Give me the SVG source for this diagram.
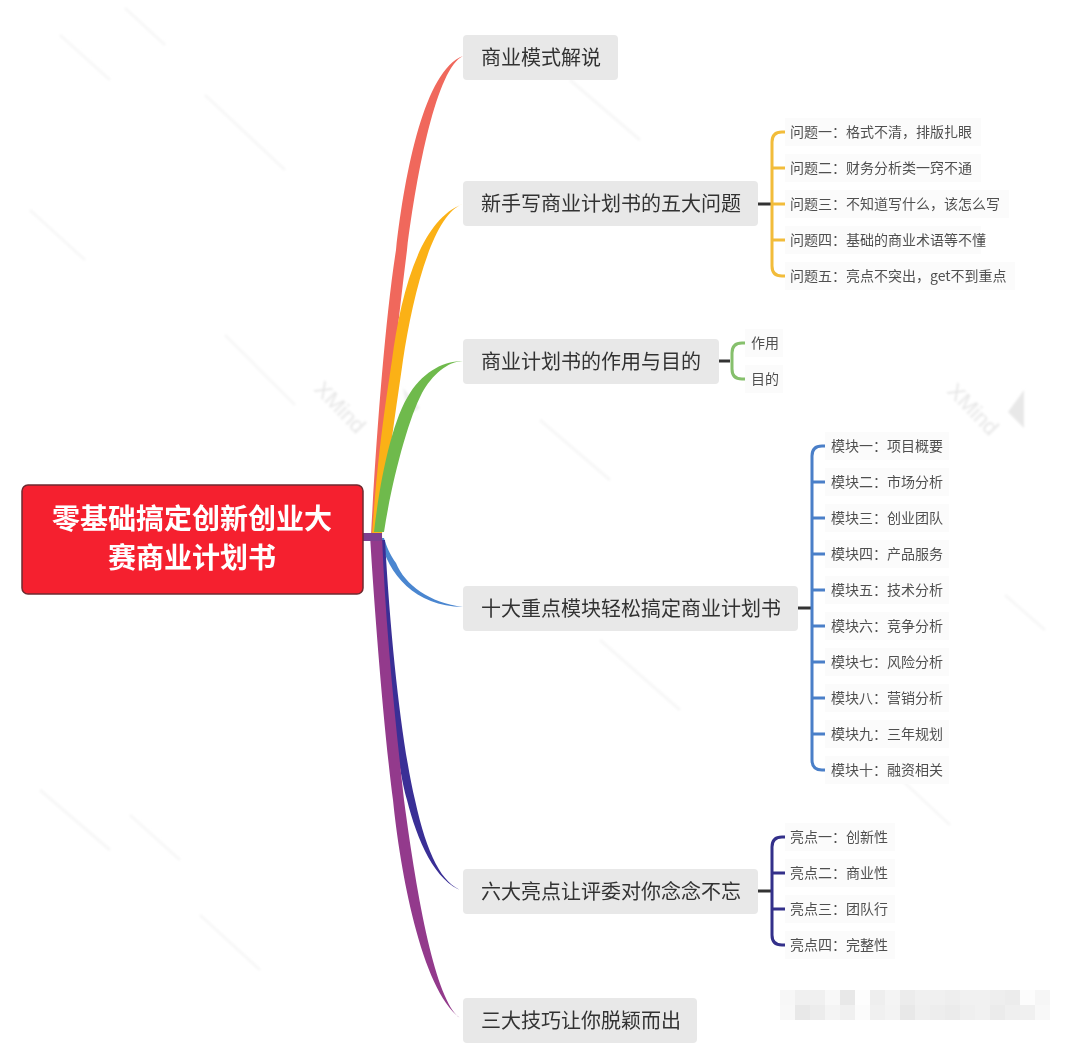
<svg xmlns="http://www.w3.org/2000/svg" width="1079" height="1051" viewBox="0 0 1079 1051">
<defs>
<filter id="soft" x="-5%" y="-20%" width="110%" height="140%"><feGaussianBlur stdDeviation="0.5"/></filter>
<filter id="wm" x="-20%" y="-20%" width="140%" height="140%"><feGaussianBlur stdDeviation="1"/></filter>
</defs>
<style>
text{font-family:"Noto Sans CJK SC","Noto Sans",sans-serif}
.topic{fill:#e8e8e8}
.leafbg{fill:#fbfbfb}
.t{font-size:20px;fill:#333;filter:url(#soft)}
.l{font-size:14px;fill:#505050;filter:url(#soft)}
.root{font-size:28px;font-weight:700;fill:#fff;text-anchor:middle;filter:url(#soft)}
.br{fill:none;stroke-width:3;stroke-linecap:round}
.stub{stroke:#333;stroke-width:3}
.wl{stroke:#f7f7f7;stroke-width:3;fill:none}
.wt{font-size:22px;font-family:"Liberation Sans",sans-serif;fill:#e6e6e6;filter:url(#wm)}
</style>
<rect width="1079" height="1051" fill="#fff"/>
<g id="watermark">
<path class="wl" filter="url(#wm)" d="M125 8L165 45M205 95L285 170M60 35L110 80M225 335L295 405M30 210L85 260M40 790L110 850M130 815L180 860M200 915L260 970M570 80L640 140M880 760L950 825M600 640L680 710M540 420L610 480M1005 595L1045 630"/>
<text class="wt" transform="translate(313 390) rotate(46)">XMind</text>
<text class="wt" transform="translate(946 392) rotate(46)">XMind</text>
<path d="M403 388L420 408L408 415Z" fill="#eee" filter="url(#wm)"/>
<path d="M1024 390L1024 428L1008 412Z" fill="#e8e8e8" filter="url(#wm)"/>
</g>
<g id="mosaic">
<g id="mosaic-row1" transform="translate(780 990)">
<rect width="15" height="15" fill="#f7f7f7"/><rect x="15" width="15" height="15" fill="#f0f0f0"/><rect x="30" width="15" height="15" fill="#f0f0f0"/><rect x="45" width="15" height="15" fill="#f8f8f8"/><rect x="60" width="15" height="15" fill="#e8e8e8"/><rect x="75" width="15" height="15" fill="#fdfdfd"/><rect x="90" width="15" height="15" fill="#eeeeee"/><rect x="105" width="15" height="15" fill="#f4f4f4"/><rect x="120" width="15" height="15" fill="#ececec"/><rect x="135" width="15" height="15" fill="#f0f0f0"/><rect x="150" width="15" height="15" fill="#f0f0f0"/><rect x="165" width="15" height="15" fill="#eeeeee"/><rect x="180" width="15" height="15" fill="#f1f1f1"/><rect x="195" width="15" height="15" fill="#f1f1f1"/><rect x="210" width="15" height="15" fill="#eeeeee"/><rect x="225" width="15" height="15" fill="#ececec"/><rect x="240" width="15" height="15" fill="#fcfcfc"/><rect x="255" width="15" height="15" fill="#f6f6f6"/>
</g>
<g id="mosaic-row2" transform="translate(780 1005)">
<rect width="15" height="15" fill="#f8f8f8"/><rect x="15" width="15" height="15" fill="#e8e8e8"/><rect x="30" width="15" height="15" fill="#ececec"/><rect x="45" width="15" height="15" fill="#f4f4f4"/><rect x="60" width="15" height="15" fill="#f0f0f0"/><rect x="75" width="15" height="15" fill="#fbfbfb"/><rect x="90" width="15" height="15" fill="#f0f0f0"/><rect x="105" width="15" height="15" fill="#f3f3f3"/><rect x="120" width="15" height="15" fill="#e8e8e8"/><rect x="135" width="15" height="15" fill="#efefef"/><rect x="150" width="15" height="15" fill="#ededed"/><rect x="165" width="15" height="15" fill="#ebebeb"/><rect x="180" width="15" height="15" fill="#efefef"/><rect x="195" width="15" height="15" fill="#f1f1f1"/><rect x="210" width="15" height="15" fill="#ebebeb"/><rect x="225" width="15" height="15" fill="#efefef"/><rect x="240" width="15" height="15" fill="#f0f0f0"/><rect x="255" width="15" height="15" fill="#f8f8f8"/>
</g>
</g>
<g id="connectors">
<path fill="#f0685c" d="M371 535C376 440 385 320 396 250C405 170 425 70 463 56C437 68 417 170 407 250C397 330 385 440 381 535Z"/>
<path fill="#fbb116" d="M372 535C378 450 386 400 392 360C400 300 418 220 463 204C432 214 412 300 403 360C396 410 385 480 382 535Z"/>
<path fill="#6fba4c" d="M374 532C380 480 392 420 410 393C425 370 445 361 463 361C448 361 432 375 422 393C408 420 392 480 384 532Z"/>
<path fill="#4a86d0" d="M380 538C388 575 415 606 463 607C430 603 405 585 396 563C390 555 386 545 384 538Z"/>
<path fill="#3a2f96" d="M378 540C385 650 395 760 407 800C417 840 435 882 463 891C442 884 427 855 415 800C403 750 391 650 385 540Z"/>
<path fill="#933a8c" d="M370 535C375 620 385 740 393 800C400 870 422 995 463 1020C437 1008 418 905 404 800C395 720 385 620 382 535Z"/>
<path d="M362 533H382V541H362Z" fill="#7d3f8f"/>
<g id="bracket-gold">
<path class="stub" d="M758 204H772"/>
<path class="br" stroke="#f2bc3a" d="M785 132H782Q772 132 772 142V266Q772 276 782 276H785M772 168H785M772 204H785M772 240H785"/>
</g>
<g id="bracket-green">
<path class="stub" d="M719 361H730"/>
<path class="br" stroke="#86c06c" d="M745 343H742Q732 343 732 353V369Q732 379 742 379H745"/>
</g>
<g id="bracket-blue">
<path class="stub" d="M798 608H812"/>
<path class="br" stroke="#4a7fc8" d="M825 446H822Q812 446 812 456V760Q812 770 822 770H825M812 482H825M812 518H825M812 554H825M812 590H825M812 626H825M812 662H825M812 698H825M812 734H825"/>
</g>
<g id="bracket-navy">
<path class="stub" d="M758 891H772"/>
<path class="br" stroke="#33308a" d="M785 837H782Q772 837 772 847V935Q772 945 782 945H785M772 873H785M772 909H785"/>
</g>
</g>
<g id="root">
<rect x="22" y="485" width="341" height="109" rx="6" fill="#f5202f" stroke="#6e2a30" stroke-width="1.5"/>
<text class="root" x="192" y="529">零基础搞定创新创业大</text>
<text class="root" x="192" y="568">赛商业计划书</text>
</g>
<g id="topic1"><rect class="topic" x="463" y="35" width="155" height="45" rx="4"/><text class="t" x="481" y="65">商业模式解说</text></g>
<g id="topic2"><rect class="topic" x="463" y="181" width="295" height="45" rx="4"/><text class="t" x="481" y="211">新手写商业计划书的五大问题</text></g>
<g id="topic3"><rect class="topic" x="463" y="339" width="256" height="45" rx="4"/><text class="t" x="481" y="369">商业计划书的作用与目的</text></g>
<g id="topic4"><rect class="topic" x="463" y="586" width="335" height="45" rx="4"/><text class="t" x="481" y="616">十大重点模块轻松搞定商业计划书</text></g>
<g id="topic5"><rect class="topic" x="463" y="869" width="295" height="45" rx="4"/><text class="t" x="481" y="899">六大亮点让评委对你念念不忘</text></g>
<g id="topic6"><rect class="topic" x="463" y="998" width="234" height="45" rx="4"/><text class="t" x="481" y="1028">三大技巧让你脱颖而出</text></g>
<g id="q1"><rect class="leafbg" x="785" y="118" width="196" height="28"/><text class="l" x="790" y="137">问题一：格式不清，排版扎眼</text></g>
<g id="q2"><rect class="leafbg" x="785" y="154" width="196" height="28"/><text class="l" x="790" y="173">问题二：财务分析类一窍不通</text></g>
<g id="q3"><rect class="leafbg" x="785" y="190" width="224" height="28"/><text class="l" x="790" y="209">问题三：不知道写什么，该怎么写</text></g>
<g id="q4"><rect class="leafbg" x="785" y="226" width="196" height="28"/><text class="l" x="790" y="245">问题四：基础的商业术语等不懂</text></g>
<g id="q5"><rect class="leafbg" x="785" y="262" width="230" height="28"/><text class="l" x="790" y="281">问题五：亮点不突出，get不到重点</text></g>
<g id="p1"><rect class="leafbg" x="745" y="329" width="38" height="28"/><text class="l" x="751" y="348">作用</text></g>
<g id="p2"><rect class="leafbg" x="745" y="365" width="38" height="28"/><text class="l" x="751" y="384">目的</text></g>
<g id="m1"><rect class="leafbg" x="825" y="432" width="124" height="28"/><text class="l" x="831" y="451">模块一：项目概要</text></g>
<g id="m2"><rect class="leafbg" x="825" y="468" width="124" height="28"/><text class="l" x="831" y="487">模块二：市场分析</text></g>
<g id="m3"><rect class="leafbg" x="825" y="504" width="124" height="28"/><text class="l" x="831" y="523">模块三：创业团队</text></g>
<g id="m4"><rect class="leafbg" x="825" y="540" width="124" height="28"/><text class="l" x="831" y="559">模块四：产品服务</text></g>
<g id="m5"><rect class="leafbg" x="825" y="576" width="124" height="28"/><text class="l" x="831" y="595">模块五：技术分析</text></g>
<g id="m6"><rect class="leafbg" x="825" y="612" width="124" height="28"/><text class="l" x="831" y="631">模块六：竞争分析</text></g>
<g id="m7"><rect class="leafbg" x="825" y="648" width="124" height="28"/><text class="l" x="831" y="667">模块七：风险分析</text></g>
<g id="m8"><rect class="leafbg" x="825" y="684" width="124" height="28"/><text class="l" x="831" y="703">模块八：营销分析</text></g>
<g id="m9"><rect class="leafbg" x="825" y="720" width="124" height="28"/><text class="l" x="831" y="739">模块九：三年规划</text></g>
<g id="m10"><rect class="leafbg" x="825" y="756" width="124" height="28"/><text class="l" x="831" y="775">模块十：融资相关</text></g>
<g id="h1"><rect class="leafbg" x="785" y="823" width="110" height="28"/><text class="l" x="790" y="842">亮点一：创新性</text></g>
<g id="h2"><rect class="leafbg" x="785" y="859" width="110" height="28"/><text class="l" x="790" y="878">亮点二：商业性</text></g>
<g id="h3"><rect class="leafbg" x="785" y="895" width="110" height="28"/><text class="l" x="790" y="914">亮点三：团队行</text></g>
<g id="h4"><rect class="leafbg" x="785" y="931" width="110" height="28"/><text class="l" x="790" y="950">亮点四：完整性</text></g>
</svg>
